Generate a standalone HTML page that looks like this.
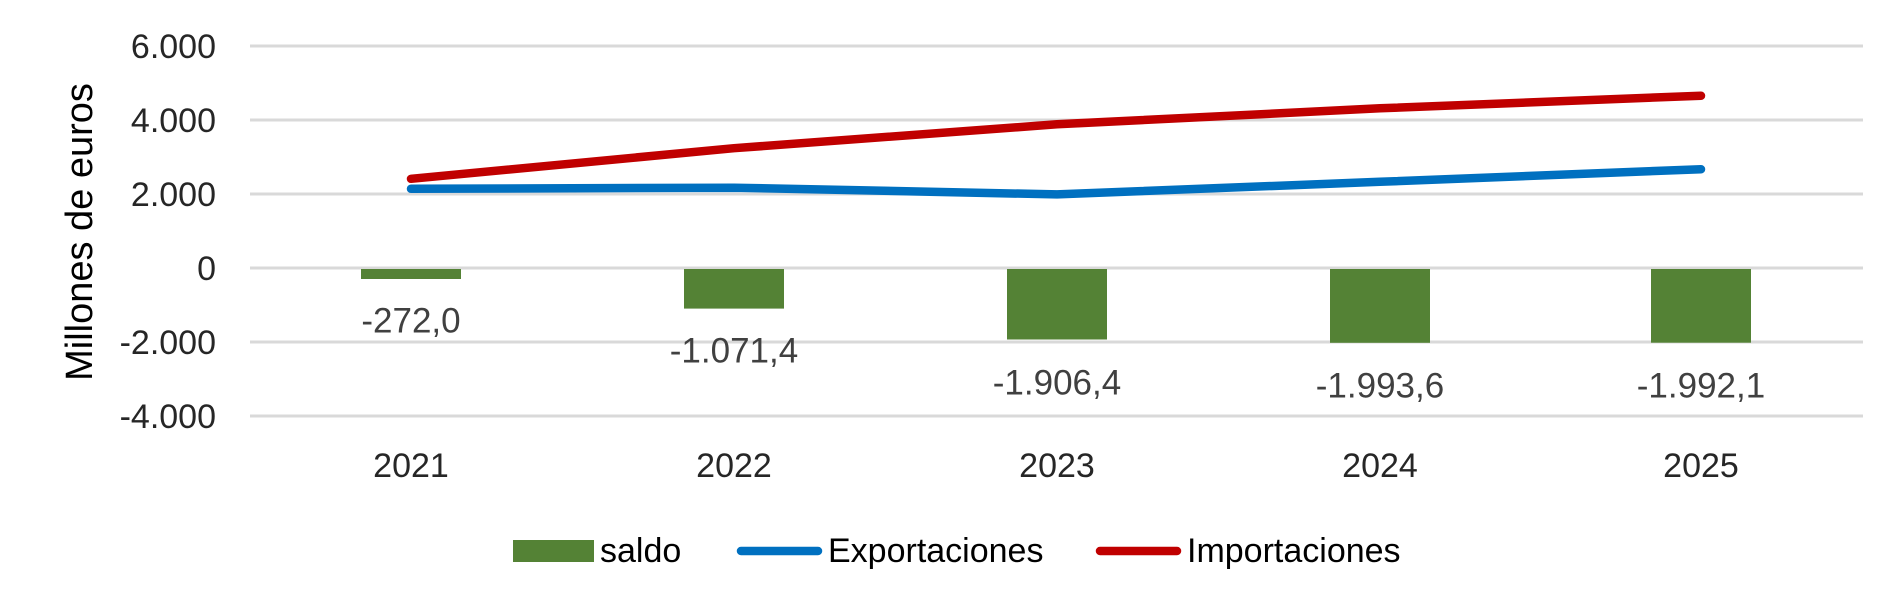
<!DOCTYPE html>
<html><head><meta charset="utf-8"><style>
html,body{margin:0;padding:0;background:#fff;}
svg{display:block;}
text{font-family:"Liberation Sans",sans-serif;fill:#262626;}
</style></head><body>
<svg width="1900" height="609" xmlns="http://www.w3.org/2000/svg">
<g stroke="#d9d9d9" stroke-width="3">
<line x1="250" x2="1863" y1="46" y2="46"/>
<line x1="250" x2="1863" y1="120" y2="120"/>
<line x1="250" x2="1863" y1="194" y2="194"/>
<line x1="250" x2="1863" y1="268" y2="268"/>
<line x1="250" x2="1863" y1="342" y2="342"/>
<line x1="250" x2="1863" y1="416" y2="416"/>
</g>
<g font-size="34" text-anchor="end" dominant-baseline="central">
<text x="216" y="47">6.000</text>
<text x="216" y="121">4.000</text>
<text x="216" y="195">2.000</text>
<text x="216" y="269">0</text>
<text x="216" y="343">-2.000</text>
<text x="216" y="417">-4.000</text>
</g>
<text transform="translate(80,232) rotate(-90)" font-size="38" text-anchor="middle" dominant-baseline="central" style="fill:#000">Millones de euros</text>
<g fill="#548235">
<rect x="361" y="269" width="100" height="10"/>
<rect x="684" y="269" width="100" height="39.6"/>
<rect x="1007" y="269" width="100" height="70.5"/>
<rect x="1330" y="269" width="100" height="73.8"/>
<rect x="1651" y="269" width="100" height="73.7"/>
</g>
<g font-size="35" text-anchor="middle" dominant-baseline="central" style="fill:#404040">
<text x="411" y="321" style="fill:#404040">-272,0</text>
<text x="734" y="351" style="fill:#404040">-1.071,4</text>
<text x="1057" y="383" style="fill:#404040">-1.906,4</text>
<text x="1380" y="386" style="fill:#404040">-1.993,6</text>
<text x="1701" y="386" style="fill:#404040">-1.992,1</text>
</g>
<polyline fill="none" stroke="#0070c0" stroke-width="8.5" stroke-linecap="round" stroke-linejoin="round" points="411,188.8 734,187.7 1057,194.4 1380,181.8 1701,169.2"/>
<polyline fill="none" stroke="#c00000" stroke-width="8.5" stroke-linecap="round" stroke-linejoin="round" points="411,178.8 734,148.2 1057,124.3 1380,108.3 1701,95.7"/>
<g font-size="34" text-anchor="middle" dominant-baseline="central">
<text x="411" y="466">2021</text>
<text x="734" y="466">2022</text>
<text x="1057" y="466">2023</text>
<text x="1380" y="466">2024</text>
<text x="1701" y="466">2025</text>
</g>
<rect x="513" y="540" width="81" height="22" fill="#548235"/>
<line x1="741" x2="818" y1="551" y2="551" stroke="#0070c0" stroke-width="8.5" stroke-linecap="round"/>
<line x1="1100" x2="1177" y1="551" y2="551" stroke="#c00000" stroke-width="8.5" stroke-linecap="round"/>
<g font-size="34" dominant-baseline="central">
<text x="600" y="551" style="fill:#000">saldo</text>
<text x="828" y="551" style="fill:#000">Exportaciones</text>
<text x="1187" y="551" style="fill:#000">Importaciones</text>
</g>
</svg>
</body></html>
